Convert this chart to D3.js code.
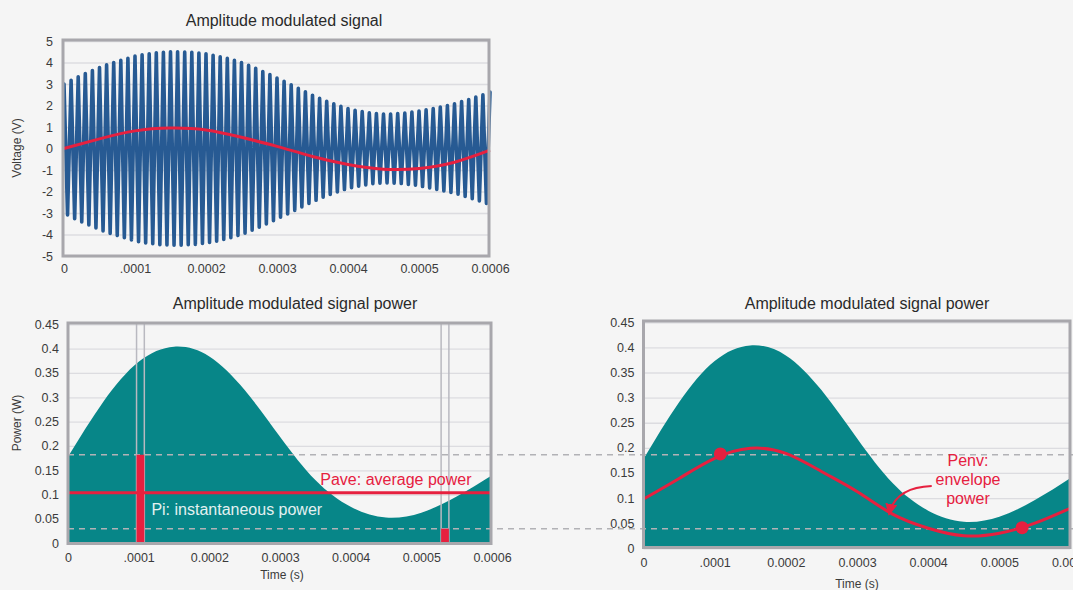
<!DOCTYPE html>
<html>
<head>
<meta charset="utf-8">
<script src="https://cdn.jsdelivr.net/npm/d3@7"></script>
<style>
  body { margin: 0; background: #f5f5f5; }
  svg { display: block; font-family: "Liberation Sans", Arial, sans-serif; }
</style>
</head>
<body>
<div id="chart"></div>
<script>
// ---- values ----
const timeTicks = [0, 0.0001, 0.0002, 0.0003, 0.0004, 0.0005, 0.0006];
const timeLabels = ['0', '.0001', '0.0002', '0.0003', '0.0004', '0.0005', '0.0006'];
const voltTicks = [-5, -4, -3, -2, -1, 0, 1, 2, 3, 4, 5];
const powerTicks = [0, 0.05, 0.1, 0.15, 0.2, 0.25, 0.3, 0.35, 0.4, 0.45];
const powerLabels = ['0', '0.05', '0.1', '0.15', '0.2', '0.25', '0.3', '0.35', '0.4', '0.45'];

// carrier peaks, one every half carrier period (5 us), alternating sign
const halfPeriod = 0.000005;
const peakVolts = [
  3.0, 3.09, 3.17, 3.26, 3.34, 3.42, 3.49, 3.56, 3.63, 3.70,
  3.77, 3.83, 3.89, 3.95, 4.00, 4.05, 4.10, 4.15, 4.20, 4.25,
  4.30, 4.33, 4.36, 4.39, 4.41, 4.43, 4.45, 4.47, 4.48, 4.49,
  4.50, 4.50, 4.50, 4.50, 4.49, 4.48, 4.47, 4.46, 4.44, 4.42,
  4.40, 4.37, 4.34, 4.31, 4.27, 4.23, 4.19, 4.15, 4.10, 4.05,
  4.00, 3.94, 3.87, 3.80, 3.73, 3.66, 3.58, 3.51, 3.44, 3.36,
  3.28, 3.20, 3.12, 3.04, 2.96, 2.88, 2.80, 2.72, 2.64, 2.56,
  2.48, 2.41, 2.34, 2.27, 2.20, 2.14, 2.08, 2.02, 1.96, 1.91,
  1.86, 1.82, 1.78, 1.75, 1.72, 1.69, 1.66, 1.64, 1.62, 1.61,
  1.60, 1.60, 1.60, 1.61, 1.62, 1.63, 1.65, 1.67, 1.69, 1.71,
  1.74, 1.77, 1.80, 1.83, 1.86, 1.90, 1.93, 1.97, 2.00, 2.04,
  2.08, 2.13, 2.18, 2.23, 2.28, 2.33, 2.39, 2.44, 2.50, 2.56,
  2.62
];

const envTimes = [0, 0.00005, 0.0001, 0.00015, 0.0002, 0.00025, 0.0003,
  0.00035, 0.0004, 0.00045, 0.0005, 0.00055, 0.0006];
const modVolts = [0, 0.45, 0.82, 0.95, 0.86, 0.52, 0.1, -0.37, -0.74, -0.96, -0.93, -0.64, -0.08];
const peakPower = [0.178, 0.291, 0.373, 0.404, 0.384, 0.315, 0.219, 0.13, 0.075, 0.053, 0.063, 0.096, 0.14];
const envPower = [0.098, 0.139, 0.179, 0.199, 0.189, 0.153, 0.113, 0.068, 0.04, 0.025, 0.03, 0.05, 0.08];

const windowStart = [0.000097, 0.000528];
const windowEnd = [0.000108, 0.000539];
const windowPower = [0.182, 0.03];
const avgPower = 0.104;
const markerTimes = [0.000108, 0.000532];
const markerPower = [0.188, 0.041];

// ---- colours ----
const BLUE = '#275a93';
const RED = '#e6203f';
const TEAL = '#078688';
const FRAME = '#a8a7ac';
const GRID = '#dcdce0';
const TEXT = '#3b3b3b';

const W = 1073, H = 590;
const svg = d3.select('#chart').append('svg').attr('width', W).attr('height', H);
svg.append('rect').attr('width', W).attr('height', H).attr('fill', '#f5f5f5');

svg.append('defs').append('marker')
  .attr('id', 'arrow')
  .attr('viewBox', '0 0 10 10')
  .attr('refX', 9).attr('refY', 5)
  .attr('markerWidth', 12).attr('markerHeight', 12)
  .attr('markerUnits', 'userSpaceOnUse')
  .attr('orient', 'auto')
  .append('path').attr('d', 'M0,0 L10,5 L0,10 z').attr('fill', RED);

// drawing order
const gridLayer = svg.append('g');
const areaLayer = svg.append('g');
const dashLayer = svg.append('g');
const markLayer = svg.append('g');
const frameLayer = svg.append('g');
const textLayer = svg.append('g');

function setupPanel(box, yDomain, yTicks, yLabels, opts) {
  const x = d3.scaleLinear().domain([0, 0.0006]).range(box.xRange);
  const y = d3.scaleLinear().domain(yDomain).range(box.yRange);
  const w = box.right - box.left;

  // gridlines
  gridLayer.append('g')
    .attr('transform', `translate(${box.left},0)`)
    .call(d3.axisLeft(y).tickValues(yTicks).tickSize(-w).tickFormat(''))
    .call((g) => g.select('.domain').remove())
    .selectAll('line')
    .attr('stroke', GRID)
    .attr('stroke-width', 1.3);

  // frame
  frameLayer.append('rect')
    .attr('x', box.left).attr('y', box.top)
    .attr('width', w).attr('height', box.bottom - box.top)
    .attr('fill', 'none')
    .attr('stroke', FRAME)
    .attr('stroke-width', 3);

  // y tick labels
  textLayer.append('g')
    .attr('transform', `translate(${box.left},0)`)
    .call(d3.axisLeft(y).tickValues(yTicks).tickSize(0).tickPadding(opts.yPad)
      .tickFormat((d, i) => yLabels[i]))
    .call((g) => g.select('.domain').remove())
    .attr('font-family', null)
    .attr('font-size', 12.5)
    .attr('color', TEXT);

  // x tick labels
  textLayer.append('g')
    .attr('transform', `translate(0,${box.bottom})`)
    .call(d3.axisBottom(x).tickValues(timeTicks).tickSize(0).tickPadding(opts.xPad)
      .tickFormat((d, i) => timeLabels[i]))
    .call((g) => g.select('.domain').remove())
    .attr('font-family', null)
    .attr('font-size', 12.5)
    .attr('color', TEXT);

  // title
  textLayer.append('text')
    .attr('x', opts.titleX).attr('y', opts.titleY)
    .attr('text-anchor', 'middle')
    .attr('font-size', 16)
    .attr('fill', '#2a2a2a')
    .text(opts.title);

  return { x, y };
}

function axisTitle(text, x, y, rotate) {
  textLayer.append('text')
    .attr('transform', `translate(${x},${y})` + (rotate ? ' rotate(-90)' : ''))
    .attr('text-anchor', 'middle')
    .attr('font-size', 12)
    .attr('fill', TEXT)
    .text(text);
}

// ---- top: amplitude modulated signal ----
const sig = setupPanel(
  { left: 63, right: 489, top: 40, bottom: 256, xRange: [64, 490], yRange: [256, 41] },
  [-5, 5], voltTicks, voltTicks.map(String),
  { yPad: 10, xPad: 8, title: 'Amplitude modulated signal', titleX: 284, titleY: 26 }
);
axisTitle('Voltage (V)', 21, 148, true);

const carrier = peakVolts.map((v, i) => ({ t: i * halfPeriod, v: i % 2 === 0 ? v : -v }));
markLayer.append('path')
  .datum(carrier)
  .attr('fill', 'none')
  .attr('stroke', BLUE)
  .attr('stroke-width', 3.6)
  .attr('stroke-linejoin', 'round')
  .attr('stroke-linecap', 'round')
  .attr('d', d3.line().x((d) => sig.x(d.t)).y((d) => sig.y(d.v)));

markLayer.append('path')
  .datum(envTimes.map((t, i) => ({ t, v: modVolts[i] })))
  .attr('fill', 'none')
  .attr('stroke', RED)
  .attr('stroke-width', 3)
  .attr('d', d3.line().curve(d3.curveNatural).x((d) => sig.x(d.t)).y((d) => sig.y(d.v)));

// ---- bottom left: signal power ----
const pw = setupPanel(
  { left: 68, right: 491, top: 323, bottom: 543.5, xRange: [68, 492], yRange: [543.3, 324.3] },
  [0, 0.45], powerTicks, powerLabels,
  { yPad: 9, xPad: 10, title: 'Amplitude modulated signal power', titleX: 295, titleY: 309 }
);
axisTitle('Power (W)', 21, 423, true);
axisTitle('Time (s)', 282, 579, false);

// ---- bottom right: signal power with envelope ----
const ev = setupPanel(
  { left: 643.5, right: 1070, top: 321, bottom: 547.5, xRange: [643.5, 1070.5], yRange: [548.3, 322.3] },
  [0, 0.45], powerTicks, powerLabels,
  { yPad: 9, xPad: 11, title: 'Amplitude modulated signal power', titleX: 867, titleY: 309 }
);
axisTitle('Time (s)', 857, 588, false);

const powerData = envTimes.map((t, i) => ({ t, p: peakPower[i] }));
[pw, ev].forEach((s) => {
  areaLayer.append('path')
    .datum(powerData)
    .attr('fill', TEAL)
    .attr('d', d3.area().curve(d3.curveNatural)
      .x((d) => s.x(d.t)).y0(s.y(0)).y1((d) => s.y(d.p)));
});

// dashed reference levels across both lower panels
windowPower.forEach((p) => {
  dashLayer.append('line')
    .attr('x1', pw.x(0)).attr('x2', W)
    .attr('y1', pw.y(p)).attr('y2', pw.y(p))
    .attr('stroke', '#b2b2b6')
    .attr('stroke-width', 1.5)
    .attr('stroke-dasharray', '6,5');
});

// sample windows and their average power
windowStart.forEach((t0, i) => {
  [t0, windowEnd[i]].forEach((t) => {
    markLayer.append('line')
      .attr('x1', pw.x(t)).attr('x2', pw.x(t))
      .attr('y1', pw.y(0.45) - 2).attr('y2', pw.y(0))
      .attr('stroke', '#b9b9c0')
      .attr('stroke-width', 1.5);
  });
  markLayer.append('rect')
    .attr('x', pw.x(t0))
    .attr('y', pw.y(windowPower[i]))
    .attr('width', pw.x(windowEnd[i]) - pw.x(t0))
    .attr('height', pw.y(0) - pw.y(windowPower[i]))
    .attr('fill', RED);
});

markLayer.append('line')
  .attr('x1', pw.x(0)).attr('x2', pw.x(0.0006) - 1)
  .attr('y1', pw.y(avgPower)).attr('y2', pw.y(avgPower))
  .attr('stroke', RED)
  .attr('stroke-width', 3);

textLayer.append('text')
  .attr('x', pw.x(0.000571)).attr('y', pw.y(avgPower) - 8)
  .attr('text-anchor', 'end')
  .attr('font-size', 16)
  .attr('fill', RED)
  .text('Pave: average power');

textLayer.append('text')
  .attr('x', pw.x(0.000118)).attr('y', pw.y(0.058))
  .attr('font-size', 16)
  .attr('fill', '#e4f1f1')
  .text('Pi: instantaneous power');

// envelope power curve and markers
markLayer.append('path')
  .datum(envTimes.map((t, i) => ({ t, p: envPower[i] })))
  .attr('fill', 'none')
  .attr('stroke', RED)
  .attr('stroke-width', 3)
  .attr('d', d3.line().curve(d3.curveNatural).x((d) => ev.x(d.t)).y((d) => ev.y(d.p)));

markLayer.selectAll('.marker')
  .data(markerTimes)
  .enter()
  .append('circle')
  .attr('class', 'marker')
  .attr('cx', (d) => ev.x(d))
  .attr('cy', (d, i) => ev.y(markerPower[i]))
  .attr('r', 6.5)
  .attr('fill', RED);

// Penv annotation
const arrow = d3.path();
arrow.moveTo(ev.x(0.000405), ev.y(0.124));
arrow.quadraticCurveTo(ev.x(0.000353), ev.y(0.121), ev.x(0.000345), ev.y(0.067));
textLayer.append('path')
  .attr('d', arrow.toString())
  .attr('fill', 'none')
  .attr('stroke', RED)
  .attr('stroke-width', 2)
  .attr('marker-end', 'url(#arrow)');

['Penv:', 'envelope', 'power'].forEach((s, i) => {
  textLayer.append('text')
    .attr('x', ev.x(0.000456))
    .attr('y', ev.y(0.163) + i * 19)
    .attr('text-anchor', 'middle')
    .attr('font-size', 16)
    .attr('fill', RED)
    .text(s);
});
</script>
</body>
</html>
